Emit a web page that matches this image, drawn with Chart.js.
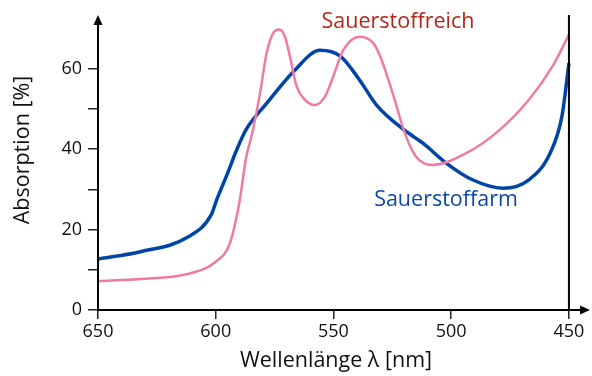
<!DOCTYPE html>
<html lang="de">
<head>
<meta charset="UTF-8">
<title>Absorption Hämoglobin</title>
<script src="https://cdn.jsdelivr.net/npm/chart.js"></script>
<style>
	body { margin: 0; background: #fff; }
	#wrap { width: 592px; height: 376px; }
</style>
</head>
<body>
<div id="wrap"><canvas id="chart"></canvas></div>
<script>
// Sauerstoffarm (blue)
const armNm  = [650, 632, 612, 602, 599.6, 595, 591, 587, 578.4, 567, 555.7, 547, 539, 531.7, 520, 512, 502, 491, 478, 467, 458, 453, 450];
const armAbs = [12.7, 14.5, 18.1, 23.6, 27.4, 34.0, 40.0, 45.0, 51.4, 59.3, 64.6, 63.1, 57.3, 51.0, 44.8, 41.5, 36.5, 32.4, 30.3, 32.4, 39.0, 48.1, 61.4];

// Sauerstoffreich (pink)
const reichNm  = [650, 632, 611, 600, 594, 590, 587, 584.7, 581.2, 578.4, 575.6, 573, 570.6, 568.5, 565.6, 562.1, 558, 553.6, 550.1, 545.8, 538.8, 533.1, 530, 524, 520, 515, 508, 495, 481, 467, 457, 450];
const reichAbs = [7.2, 7.7, 9.1, 12.0, 16.6, 26.6, 38.2, 43.5, 53.9, 63.9, 68.9, 69.8, 68.0, 63.1, 55.6, 52.3, 51.0, 53.1, 58.1, 64.7, 68.0, 66.4, 62.9, 52.3, 44.5, 38.2, 36.1, 38.6, 44.0, 52.3, 60.6, 68.5];

const xTicks = [650, 600, 550, 500, 450];
const yTicks = [0, 10, 20, 30, 40, 50, 60];
const yLabelled = [0, 20, 40, 60];

const FONT = "'Open Sans', sans-serif";

function pts(xs, ys) {
	return xs.map((x, i) => ({x: x, y: ys[i]}));
}

// axes with arrows, line at 450 nm, series labels, axis titles
const decor = {
	id: 'decor',
	afterDraw(chart) {
		const ctx = chart.ctx;
		const a = chart.chartArea;
		const xs = chart.scales.x;
		ctx.save();
		ctx.strokeStyle = '#000';
		ctx.fillStyle = '#000';
		ctx.lineWidth = 2;
		// y axis
		ctx.beginPath();
		ctx.moveTo(a.left, a.bottom);
		ctx.lineTo(a.left, a.top + 6);
		ctx.stroke();
		ctx.beginPath();
		ctx.moveTo(a.left, a.top - 2);
		ctx.lineTo(a.left - 4.5, a.top + 8);
		ctx.lineTo(a.left + 4.5, a.top + 8);
		ctx.closePath();
		ctx.fill();
		// x axis
		ctx.beginPath();
		ctx.moveTo(a.left - 1, a.bottom);
		ctx.lineTo(a.right - 6, a.bottom);
		ctx.stroke();
		ctx.beginPath();
		ctx.moveTo(a.right + 2, a.bottom);
		ctx.lineTo(a.right - 8, a.bottom - 4.5);
		ctx.lineTo(a.right - 8, a.bottom + 4.5);
		ctx.closePath();
		ctx.fill();
		// line at 450
		const x450 = xs.getPixelForValue(450);
		ctx.beginPath();
		ctx.moveTo(x450, a.top - 2);
		ctx.lineTo(x450, a.bottom);
		ctx.stroke();

		// labels
		ctx.textAlign = 'center';
		ctx.textBaseline = 'middle';
		ctx.font = '21.5px ' + FONT;
		ctx.fillStyle = '#b3261a';
		ctx.fillText('Sauerstoffreich', 398, 22);
		ctx.fillStyle = '#0a49a8';
		ctx.fillText('Sauerstoffarm', 446, 200);

		// titles
		ctx.fillStyle = '#111';
		ctx.fillText('Wellenlänge λ [nm]', 336, 361);
		ctx.translate(23, 150);
		ctx.rotate(-Math.PI / 2);
		ctx.fillText('Absorption [%]', 0, 0);
		ctx.restore();
	}
};

new Chart(document.getElementById('chart'), {
	type: 'line',
	data: {
		datasets: [
			{
				label: 'Sauerstoffreich',
				data: pts(reichNm, reichAbs),
				borderColor: '#ef7aa3',
				borderWidth: 2.5,
				pointRadius: 0,
				fill: false,
				cubicInterpolationMode: 'monotone'
			},
			{
				label: 'Sauerstoffarm',
				data: pts(armNm, armAbs),
				borderColor: '#0045a6',
				borderWidth: 3.5,
				pointRadius: 0,
				fill: false,
				cubicInterpolationMode: 'monotone'
			}
		]
	},
	options: {
		responsive: true,
		maintainAspectRatio: false,
		animation: false,
		layout: { padding: { top: 17, right: 4, left: 0, bottom: 0 } },
		plugins: {
			legend: { display: false },
			tooltip: { enabled: false }
		},
		scales: {
			x: {
				type: 'linear',
				reverse: true,
				min: 441.9,
				max: 650,
				afterBuildTicks: s => { s.ticks = xTicks.map(v => ({value: v})); },
				afterFit: s => { s.height = 66; },
				border: { display: false },
				grid: { drawOnChartArea: false, drawTicks: true, tickLength: 9, color: '#222', lineWidth: 1.5 },
				ticks: { color: '#111', font: { family: FONT, size: 18 }, padding: 2, maxRotation: 0 }
			},
			y: {
				min: 0,
				max: 72.9,
				afterBuildTicks: s => { s.ticks = yTicks.map(v => ({value: v})); },
				afterFit: s => { s.width = 98; },
				border: { display: false },
				grid: { drawOnChartArea: false, drawTicks: true, tickLength: 10, color: '#222', lineWidth: 1.5 },
				ticks: {
					color: '#111',
					font: { family: FONT, size: 18 },
					padding: 6,
					callback: v => yLabelled.includes(v) ? String(v) : ''
				}
			}
		}
	},
	plugins: [decor]
});
</script>
</body>
</html>
